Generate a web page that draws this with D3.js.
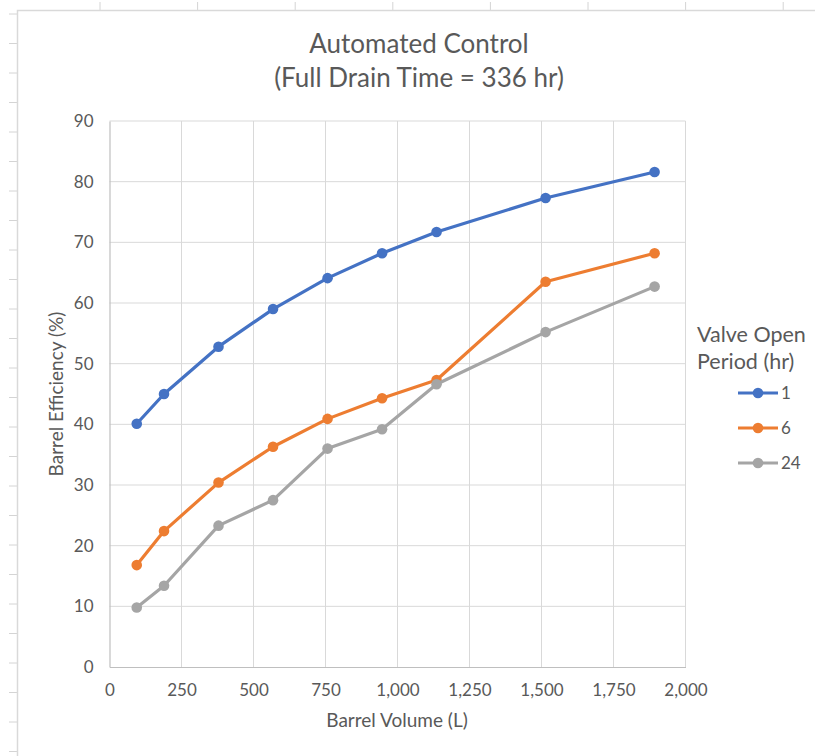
<!DOCTYPE html>
<html>
<head>
<meta charset="utf-8">
<script src="https://cdn.jsdelivr.net/npm/d3@7"></script>
<style>
  html, body { margin: 0; padding: 0; background: #fff; }
  svg { display: block; }
  text { font-family: Lato, "Open Sans", sans-serif; fill: #595959; }
</style>
</head>
<body>
<svg id="chart" width="815" height="756"></svg>
<script>
const volumes = [94.6, 189.3, 378.5, 567.8, 757.1, 946.4, 1135.6, 1514.2, 1892.7];
const series1 = [40.1, 45.0, 52.8, 59.0, 64.1, 68.2, 71.7, 77.3, 81.6];
const series6 = [16.8, 22.4, 30.4, 36.3, 40.9, 44.3, 47.3, 63.5, 68.2];
const series24 = [9.8, 13.4, 23.3, 27.5, 36.0, 39.2, 46.6, 55.2, 62.7];
const seriesNames = ["1", "6", "24"];
const seriesColors = ["#4472C4", "#ED7D31", "#A5A5A5"];
const xTicks = [0, 250, 500, 750, 1000, 1250, 1500, 1750, 2000];
const yTicks = [0, 10, 20, 30, 40, 50, 60, 70, 80, 90];
const titleLines = ["Automated Control", "(Full Drain Time = 336 hr)"];
const xTitle = "Barrel Volume (L)";
const yTitle = "Barrel Efficiency (%)";
const legendTitle = ["Valve Open", "Period (hr)"];

const svg = d3.select("#chart");

// spreadsheet background decoration
const sheet = svg.append("g");
d3.range(0, 26).forEach(i => {
  const yy = 14 + i * 29.5;
  sheet.append("line").attr("x1", 9).attr("x2", 17).attr("y1", yy).attr("y2", yy)
    .attr("stroke", "#d4d4d4").attr("stroke-width", 1);
});
d3.range(0, 8).forEach(i => {
  const xx = 100 + i * 97.6;
  sheet.append("line").attr("x1", xx).attr("x2", xx).attr("y1", 2).attr("y2", 10)
    .attr("stroke", "#d4d4d4").attr("stroke-width", 1);
});
sheet.append("path").attr("d", "M17.5,756 L17.5,10.5 L815,10.5")
  .attr("fill", "none").attr("stroke", "#d9d9d9").attr("stroke-width", 1.5);

const plotLeft = 109.5, plotRight = 685.5, plotTop = 121, plotBottom = 667;
const x = d3.scaleLinear().domain([0, 2000]).range([plotLeft, plotRight]);
const y = d3.scaleLinear().domain([0, 90]).range([plotBottom, plotTop]);

// gridlines
const grid = svg.append("g");
grid.selectAll(".vg").data(xTicks.filter(d => d > 0)).join("line")
  .attr("x1", d => x(d)).attr("x2", d => x(d)).attr("y1", plotTop).attr("y2", plotBottom)
  .attr("stroke", "#d9d9d9").attr("stroke-width", 1);
grid.selectAll(".hg").data(yTicks.filter(d => d > 0)).join("line")
  .attr("x1", plotLeft).attr("x2", plotRight).attr("y1", d => y(d)).attr("y2", d => y(d))
  .attr("stroke", "#d9d9d9").attr("stroke-width", 1);

// axes
const xAxis = svg.append("g").attr("transform", `translate(0,${plotBottom})`)
  .call(d3.axisBottom(x).tickValues(xTicks).tickSize(0).tickPadding(17)
    .tickFormat(d3.format(",")));
xAxis.select(".domain").attr("stroke", "#bfbfbf").attr("stroke-width", 1.2);
xAxis.selectAll("text").style("font-size", "17px").attr("fill", "#595959")
  .style("font-family", "Lato, sans-serif");

const yAxis = svg.append("g").attr("transform", `translate(${plotLeft},0)`)
  .call(d3.axisLeft(y).tickValues(yTicks).tickSize(0).tickPadding(16));
yAxis.select(".domain").attr("stroke", "#bfbfbf").attr("stroke-width", 1.2);
yAxis.selectAll("text").style("font-size", "17px").attr("fill", "#595959")
  .style("font-family", "Lato, sans-serif");

// titles
svg.append("text").attr("x", 419).attr("y", 53).attr("text-anchor", "middle")
  .style("font-size", "26px").text(titleLines[0]);
svg.append("text").attr("x", 419).attr("y", 87).attr("text-anchor", "middle")
  .style("font-size", "26px").text(titleLines[1]);
svg.append("text").attr("x", 397).attr("y", 727).attr("text-anchor", "middle")
  .style("font-size", "19px").text(xTitle);
svg.append("text").attr("transform", "translate(63,394) rotate(-90)")
  .attr("text-anchor", "middle").style("font-size", "19px").text(yTitle);

// series
const allSeries = [series1, series6, series24];
const line = d3.line().x(d => x(d[0])).y(d => y(d[1]));
allSeries.forEach((vals, i) => {
  const pts = volumes.map((v, j) => [v, vals[j]]);
  const g = svg.append("g");
  g.append("path").datum(pts).attr("d", line).attr("fill", "none")
    .attr("stroke", seriesColors[i]).attr("stroke-width", 3.2)
    .attr("stroke-linejoin", "round").attr("stroke-linecap", "round");
  g.selectAll("circle").data(pts).join("circle")
    .attr("cx", d => x(d[0])).attr("cy", d => y(d[1])).attr("r", 5.3)
    .attr("fill", seriesColors[i]);
});

// legend
svg.append("text").attr("x", 697).attr("y", 342).style("font-size", "21.5px").text(legendTitle[0]);
svg.append("text").attr("x", 697).attr("y", 369).style("font-size", "21.5px").text(legendTitle[1]);
seriesNames.forEach((name, i) => {
  const ly = 393 + i * 35;
  svg.append("line").attr("x1", 738).attr("x2", 778).attr("y1", ly).attr("y2", ly)
    .attr("stroke", seriesColors[i]).attr("stroke-width", 3.2);
  svg.append("circle").attr("cx", 758).attr("cy", ly).attr("r", 5.3).attr("fill", seriesColors[i]);
  svg.append("text").attr("x", 781).attr("y", ly + 6).style("font-size", "17px").text(name);
});
</script>
</body>
</html>
